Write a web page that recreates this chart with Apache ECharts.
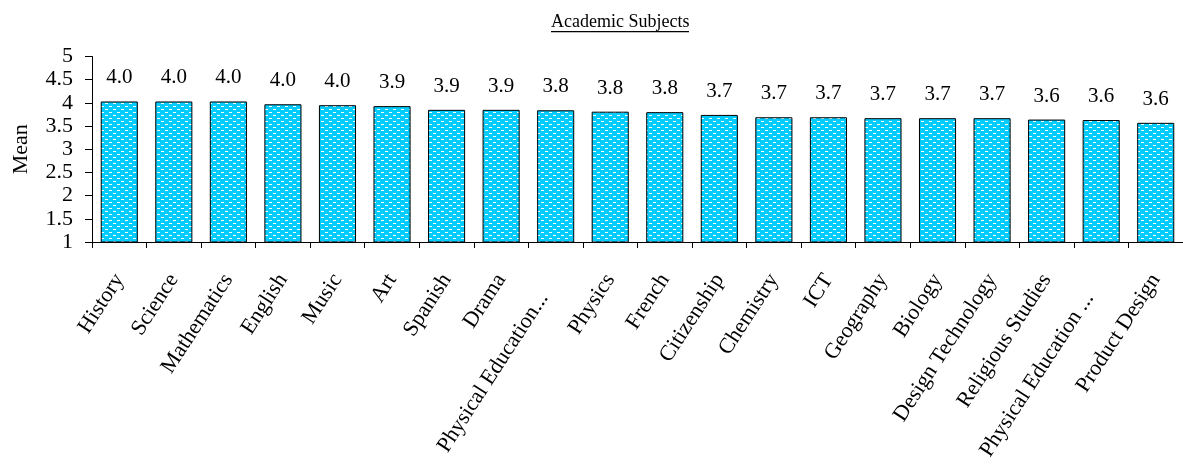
<!DOCTYPE html>
<html>
<head>
<meta charset="utf-8">
<script src="https://cdn.jsdelivr.net/npm/echarts@6/dist/echarts.min.js"></script>
<style>
html,body{margin:0;padding:0;background:#fff;}
#chart{width:1183px;height:476px;}
</style>
</head>
<body>
<div id="chart"></div>
<script>
var categories = ["History","Science","Mathematics","English","Music","Art","Spanish","Drama","Physical Education...","Physics","French","Citizenship","Chemistry","ICT","Geography","Biology","Design Technology","Religious Studies","Physical Education ...","Product Design"];
var means = [4.03,4.03,4.03,3.97,3.95,3.93,3.85,3.85,3.84,3.81,3.80,3.74,3.69,3.69,3.67,3.67,3.67,3.64,3.63,3.57];
var yTicks = ["1","1.5","2","2.5","3","3.5","4","4.5","5"];
var titleText = "Academic Subjects";
var yName = "Mean";

var FONT = "Liberation Serif";

// dotted cyan pattern
var tile = document.createElement('canvas');
tile.width = 8; tile.height = 6;
var c = tile.getContext('2d');
c.fillStyle = '#00ccff';
c.fillRect(0,0,8,6);
c.fillStyle = '#ffffff';
c.fillRect(1,1,3,1);
c.fillRect(5,4,3,1);

var chart = echarts.init(document.getElementById('chart'), null, {renderer:'canvas'});
chart.setOption({
  animation:false,
  title:{
    text:titleText,
    left:546, top:8,
    textStyle:{fontFamily:FONT,fontSize:18,fontWeight:'normal',color:'#000'}
  },
  graphic:[{
    type:'rect',
    shape:{x:551,y:31,width:138,height:1.3},
    style:{fill:'#000'}
  }],
  grid:{left:92,right:-1,top:56.5,bottom:234,containLabel:false},
  xAxis:{
    type:'category',
    data:categories,
    axisLine:{lineStyle:{color:'#000',width:1}},
    axisTick:{show:true,alignWithLabel:false,length:6,lineStyle:{color:'#000'}},
    axisLabel:{interval:0,rotate:57,margin:34,fontFamily:FONT,fontSize:22,color:'#000',
      formatter:function(v){ return /\.\.\.$/.test(v) ? v + '\u00a0\u00a0\u00a0\u00a0' : v; }},
    splitLine:{show:false}
  },
  yAxis:{
    type:'value',
    min:1,max:5,interval:0.5,
    name:yName,
    nameLocation:'middle',
    nameGap:60,
    nameRotate:90,
    nameTextStyle:{fontFamily:FONT,fontSize:22,color:'#000'},
    axisLine:{show:true,lineStyle:{color:'#000',width:1}},
    axisTick:{show:true,length:7,lineStyle:{color:'#000'}},
    axisLabel:{fontFamily:FONT,fontSize:22,color:'#000',margin:19,
      formatter:function(v){ var i=Math.round((v-1)/0.5); return yTicks[i]!==undefined?yTicks[i]:String(v);} },
    splitLine:{show:false}
  },
  series:[{
    type:'bar',
    data:means,
    barCategoryGap:'32%',
    itemStyle:{color:{image:tile,repeat:'repeat'},borderColor:'#000',borderWidth:1},
    label:{show:true,position:'top',distance:13,fontFamily:FONT,fontSize:21,color:'#000',
      formatter:function(p){return p.value.toFixed(1);}}
  }]
});
</script>
</body>
</html>
